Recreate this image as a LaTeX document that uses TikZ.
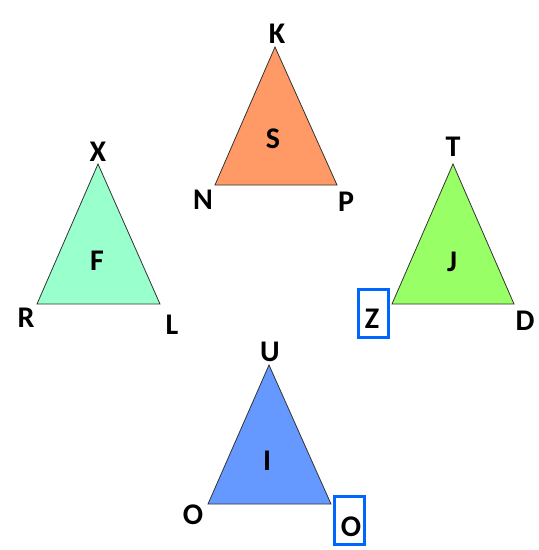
\documentclass[tikz,border=0pt]{standalone}
\usepackage{fontspec}
\setmainfont{Carlito}
\begin{document}
\begin{tikzpicture}[x=1pt,y=-1pt,
  tri/.style={draw=black!80,line width=0.8pt,line join=miter},
  lbl/.style={font=\fontsize{30}{34}\selectfont\bfseries,inner sep=0pt,anchor=center},
  hbox/.style={draw={rgb,255:red,0;green,102;blue,255},line width=3pt,minimum width=30pt,minimum height=48pt,inner sep=0pt}]
\definecolor{sor}{RGB}{255,153,102}
\definecolor{fmint}{RGB}{153,255,204}
\definecolor{jgreen}{RGB}{153,255,102}
\definecolor{iblue}{RGB}{102,153,255}
\useasboundingbox (0,0) rectangle (539,550);
% S
\coordinate (sK) at (275,47);
\coordinate (sN) at (215,185);
\coordinate (sP) at (337,185);
\filldraw[tri,fill=sor] (sK) -- (sN) -- (sP) -- cycle;
% F
\coordinate (fX) at (98,164);
\coordinate (fR) at (37,304);
\coordinate (fL) at (160,304);
\filldraw[tri,fill=fmint] (fX) -- (fR) -- (fL) -- cycle;
% J
\coordinate (jT) at (453,164);
\coordinate (jZ) at (392,304);
\coordinate (jD) at (514,304);
\filldraw[tri,fill=jgreen] (jT) -- (jZ) -- (jD) -- cycle;
% I
\coordinate (iU) at (269,365);
\coordinate (iO1) at (208,504);
\coordinate (iO2) at (331,504);
\filldraw[tri,fill=iblue] (iU) -- (iO1) -- (iO2) -- cycle;
% boxes
\node[hbox] (zbox) at (373.5,313.5) {};
\node[hbox] (obox) at (349.5,520) {};
% labels
\node[lbl] (K) at (277,34) {K};
\node[lbl] (N) at (203,200) {N};
\node[lbl] (P) at (346,202) {P};
\node[lbl] (S) at (273,139) {S};
\node[lbl] (X) at (98,152) {X};
\node[lbl] (F) at (97,261) {F};
\node[lbl] (R) at (26,318) {R};
\node[lbl] (L) at (172,325) {L};
\node[lbl] (T) at (453,147) {T};
\node[lbl] (J) at (452,262) {J};
\node[lbl] (D) at (525,321) {D};
\node[lbl] (Z) at (372,319) {Z};
\node[lbl] (U) at (270,352) {U};
\node[lbl] (I) at (267,461) {I};
\node[lbl] (O1) at (193,515) {O};
\node[lbl] (O2) at (351,527) {O};
\end{tikzpicture}
\end{document}
